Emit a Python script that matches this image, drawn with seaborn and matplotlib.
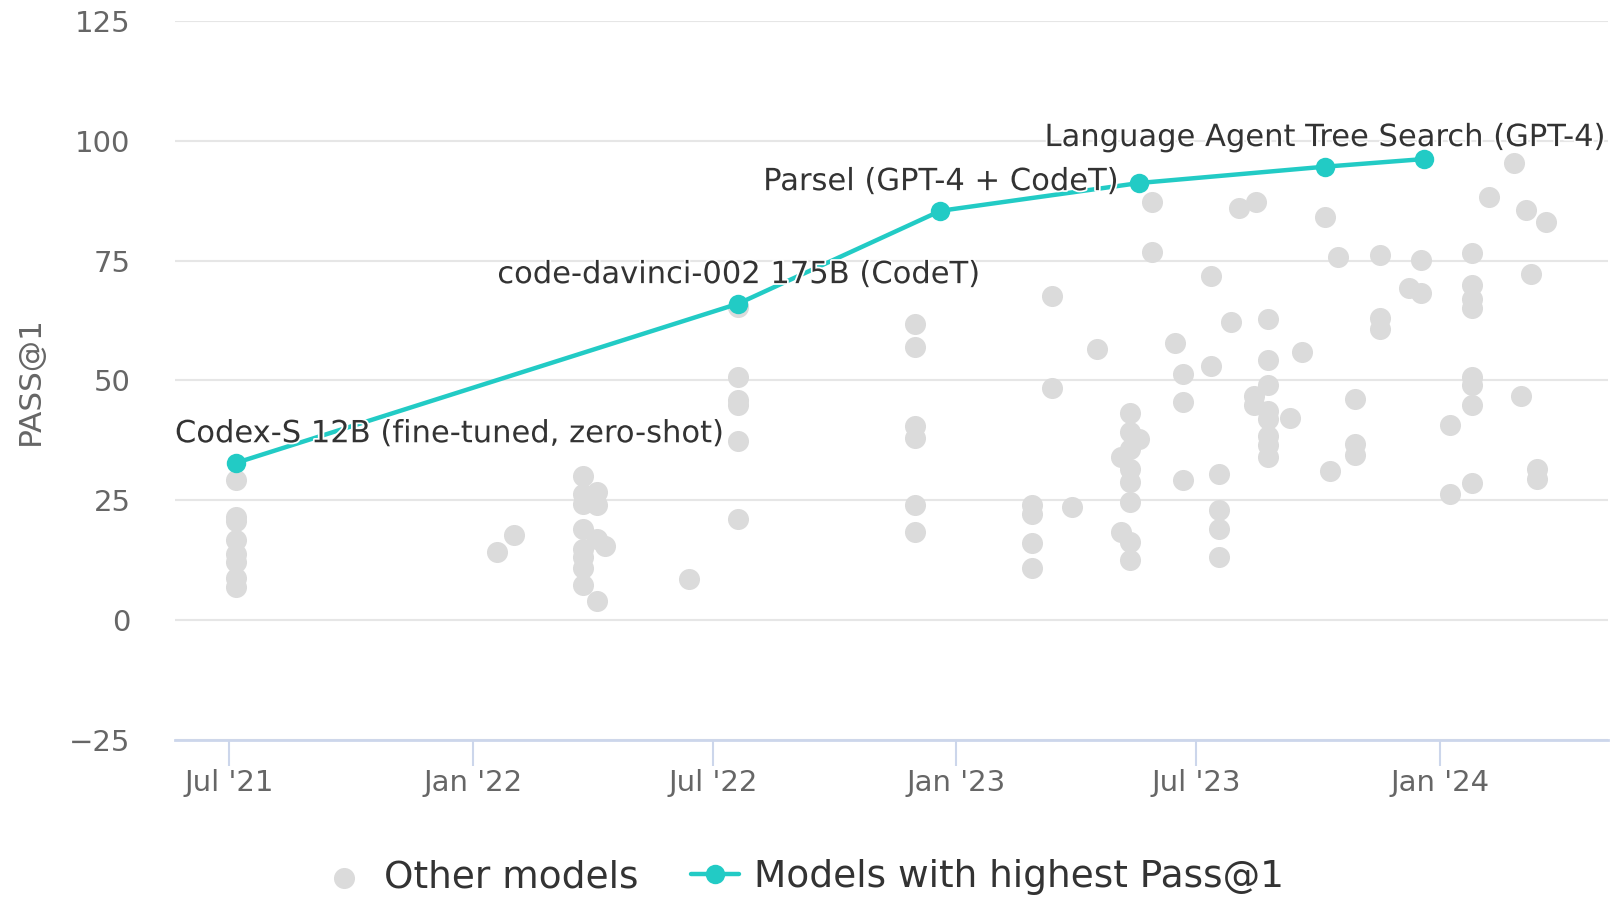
import matplotlib
matplotlib.use('Agg')
import matplotlib.pyplot as plt
import matplotlib.dates as mdates
import matplotlib.patheffects as pe
import pandas as pd
import seaborn as sns

# ---- data ----
other_dates = (
    ['2021-07-06'] * 8
    + ['2022-01-19', '2022-02-01']
    + ['2022-03-25'] * 8
    + ['2022-04-05'] * 4
    + ['2022-04-11', '2022-06-13']
    + ['2022-07-20'] * 6
    + ['2022-12-01'] * 6
    + ['2023-02-27'] * 4
    + ['2023-03-14'] * 2
    + ['2023-03-29', '2023-04-17']
    + ['2023-05-12'] * 8
    + ['2023-05-05'] * 2
    + ['2023-05-19']
    + ['2023-05-29'] * 2
    + ['2023-06-15']
    + ['2023-06-21'] * 3
    + ['2023-07-12'] * 2
    + ['2023-07-18'] * 4
    + ['2023-07-27', '2023-08-02', '2023-08-15']
    + ['2023-08-14'] * 2
    + ['2023-08-24'] * 8
    + ['2023-09-10', '2023-09-19', '2023-10-06', '2023-10-10', '2023-10-16']
    + ['2023-10-29'] * 3
    + ['2023-11-17'] * 3
    + ['2023-12-09']
    + ['2023-12-18'] * 2
    + ['2024-01-09'] * 2
    + ['2024-01-25'] * 8
    + ['2024-02-07', '2024-02-26', '2024-03-02', '2024-03-06', '2024-03-10']
    + ['2024-03-14'] * 2
    + ['2024-03-21']
)
other_scores = (
    [29.2, 21.6, 20.6, 16.7, 13.9, 12.1, 8.7, 7.0]
    + [14.3, 17.7]
    + [30.1, 26.4, 24.3, 19.1, 14.9, 13.2, 10.8, 7.3]
    + [26.7, 24.0, 17.0, 3.9]
    + [15.5, 8.5]
    + [65.3, 50.7, 46.0, 44.9, 37.3, 21.2]
    + [61.7, 57.0, 40.6, 37.9, 24.0, 18.3]
    + [24.1, 22.2, 16.0, 10.8]
    + [67.6, 48.4]
    + [23.5, 56.5]
    + [43.3, 39.2, 35.8, 31.6, 28.8, 24.7, 16.2, 12.5]
    + [34.0, 18.4]
    + [37.8]
    + [87.3, 76.9]
    + [57.8]
    + [51.3, 45.5, 29.3]
    + [71.7, 53.0]
    + [30.4, 22.9, 19.0, 13.1]
    + [62.3, 86.0, 87.3]
    + [46.7, 44.8]
    + [62.9, 54.3, 49.0, 43.6, 42.0, 38.5, 36.5, 34.0]
    + [42.2, 55.9, 84.2, 31.1, 75.7]
    + [46.2, 36.8, 34.5]
    + [76.2, 63.0, 60.8]
    + [69.2]
    + [75.1, 68.2]
    + [40.8, 26.4]
    + [76.7, 70.0, 67.0, 65.1, 50.7, 49.0, 44.9, 28.7]
    + [88.3, 95.3, 46.7, 85.6, 72.2]
    + [31.5, 29.4]
    + [83.1]
)

best_dates = ['2021-07-06', '2022-07-20', '2022-12-20', '2023-05-19', '2023-10-06', '2023-12-20']
best_scores = [32.8, 66.0, 85.4, 91.2, 94.6, 96.2]
best_labels = ['Codex-S 12B (fine-tuned, zero-shot)', 'code-davinci-002 175B (CodeT)',
               'Parsel (GPT-4 + CodeT)', '', 'Language Agent Tree Search (GPT-4)', '']

tick_dates = ['2021-07-01', '2022-01-01', '2022-07-01', '2023-01-01', '2023-07-01', '2024-01-01']
tick_labels = ["Jul '21", "Jan '22", "Jul '22", "Jan '23", "Jul '23", "Jan '24"]
y_ticks = [-25, 0, 25, 50, 75, 100, 125]

df_other = pd.DataFrame({'date': pd.to_datetime(other_dates), 'score': other_scores})
df_best = pd.DataFrame({'date': pd.to_datetime(best_dates), 'score': best_scores, 'label': best_labels})

# ---- style ----
sns.set_theme(style='white')
plt.rcParams['font.family'] = ['DejaVu Sans']

GRAY = '#dbdbdb'
TEAL = '#22cbc5'
TXT = '#333333'
AXT = '#666666'

fig = plt.figure(figsize=(16.14, 8.98), dpi=100)
ax = fig.add_axes([0.1084, 0.176, 0.8879, 0.8006])

sns.scatterplot(data=df_other, x='date', y='score', color=GRAY, s=230, linewidth=0,
                ax=ax, label='Other models', zorder=2)
sns.lineplot(data=df_best, x='date', y='score', color=TEAL, lw=3.2, marker='o', markersize=14,
             markeredgewidth=0, ax=ax, label='Models with highest Pass@1', zorder=3)

# data labels (first one clamped to the left edge of the plot)
halo = [pe.withStroke(linewidth=2.5, foreground='white')]
for i, row in df_best.iterrows():
    if not row['label']:
        continue
    if i == 0:
        ax.annotate(row['label'], xy=(0, row['score']), xycoords=('axes fraction', 'data'),
                    xytext=(0, 21), textcoords='offset points', ha='left', va='center',
                    fontsize=22, color=TXT, zorder=5, path_effects=halo)
    else:
        ax.annotate(row['label'], xy=(mdates.date2num(row['date']), row['score']),
                    xytext=(0, 21), textcoords='offset points', ha='center', va='center',
                    fontsize=22, color=TXT, zorder=5, path_effects=halo)

ax.set_xlim(pd.Timestamp('2021-05-21'), pd.Timestamp('2024-05-07'))
ax.set_ylim(-25, 125)
ax.set_xticks(pd.to_datetime(tick_dates))
ax.set_xticklabels(tick_labels)
ax.set_yticks(y_ticks)
ax.set_yticklabels([f'{v:.0f}'.replace('-', '\u2212') for v in y_ticks])

ax.grid(axis='y', color='#e6e6e6', lw=1.5)
ax.grid(axis='x', visible=False)
for side in ['top', 'right', 'left']:
    ax.spines[side].set_visible(False)
ax.spines['bottom'].set_color('#ccd6eb')
ax.spines['bottom'].set_linewidth(2)

ax.tick_params(axis='x', direction='out', length=19, width=1.5, color='#ccd6eb',
               labelsize=21, labelcolor=AXT, pad=2, bottom=True)
ax.tick_params(axis='y', length=0, labelsize=21, labelcolor=AXT, pad=32)

ax.set_xlabel('')
ax.set_ylabel('PASS@1', fontsize=22.5, color=AXT)
ax.yaxis.set_label_coords(-0.091, 0.5)

handles, labels = ax.get_legend_handles_labels()
ax.get_legend().remove()
fig.legend(handles, labels, loc='center', bbox_to_anchor=(0.497, 0.023), ncol=2, frameon=False,
           fontsize=27, labelcolor=TXT, handlelength=1.3, handletextpad=0.4, columnspacing=1.4)

fig.savefig('out.png', dpi=100)
